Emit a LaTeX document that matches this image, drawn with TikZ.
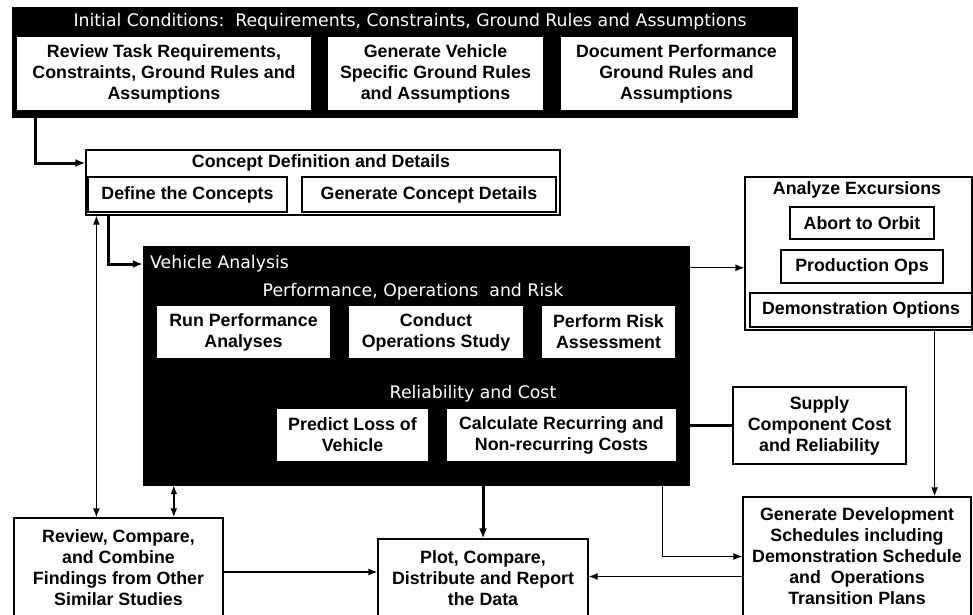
\documentclass[tikz,border=0pt]{standalone}
\usepackage{fontspec}
\setmainfont{Liberation Sans}
\newfontfamily\headfont{DejaVu Sans}
\usetikzlibrary{arrows.meta}
\tikzset{
    panel/.style={fill=black, draw=black, inner sep=0pt},
    frame/.style={fill=white, draw=black, line width=1.2pt, inner sep=0pt},
    task/.style={fill=white, draw=black, line width=1.3pt, inner sep=0pt, align=center,
        font=\fontsize{17.8}{21}\selectfont\bfseries},
    intask/.style={task, draw=none},
    head/.style={text=white, inner sep=0pt, font=\headfont\fontsize{17.3}{20}\selectfont},
    thin arrow/.style={-{Latex[length=9pt,width=7pt]}, line width=1.3pt},
    both arrow/.style={{Latex[length=9pt,width=7pt]}-{Latex[length=9pt,width=7pt]}, line width=#1},
    heavy arrow/.style={-{Latex[length=10pt,width=8pt]}, line width=3pt},
}

\begin{document}
\begin{tikzpicture}[x=1pt, y=-1pt]
    \useasboundingbox (0,0) rectangle (973,614);
    \clip (0,0) rectangle (973,614);
    \fill[white] (0,0) rectangle (973,614);

    % initial conditions
    \node[panel, minimum width=785pt, minimum height=110pt] (init) at (404.5,62) {};
    \node[head] (inittitle) at (410,22) {Initial Conditions:\ \ Requirements, Constraints, Ground Rules and Assumptions};
    \node[intask, minimum width=294pt, minimum height=73pt] (revtask) at (164,73.5) {Review Task Requirements,\\Constraints, Ground Rules and\\Assumptions};
    \node[intask, minimum width=215pt, minimum height=73pt] (genrules) at (435.5,73.5) {Generate Vehicle\\Specific Ground Rules\\and Assumptions};
    \node[intask, minimum width=231pt, minimum height=73pt] (docperf) at (676.5,73.5) {Document Performance\\Ground Rules and\\Assumptions};

    % concept definition
    \node[frame, minimum width=474pt, minimum height=65pt] (concept) at (323,182.5) {};
    \node[task, draw=none, fill=none] (contitle) at (321,163) {Concept Definition and Details};
    \node[task, minimum width=199pt, minimum height=35pt] (define) at (187.5,194.5) {Define the Concepts};
    \node[task, minimum width=254pt, minimum height=35pt] (gencon) at (429,194.5) {Generate Concept Details};

    % vehicle analysis
    \node[panel, minimum width=546pt, minimum height=239pt] (vehicle) at (416,365.5) {};
    \node[head, anchor=west] (vtitle) at (150,264) {Vehicle Analysis};
    \node[head] (perftitle) at (413,292) {Performance, Operations\ \ and Risk};
    \node[intask, minimum width=173pt, minimum height=52pt] (runperf) at (243.5,332) {Run Performance\\Analyses};
    \node[intask, minimum width=174pt, minimum height=52pt] (conduct) at (436,332) {Conduct\\Operations Study};
    \node[intask, minimum width=133pt, minimum height=52pt] (risk) at (608.5,332) {Perform Risk\\Assessment};
    \node[head] (reltitle) at (473,394) {Reliability and Cost};
    \node[intask, minimum width=151pt, minimum height=52pt] (loss) at (352.5,435) {Predict Loss of\\Vehicle};
    \node[intask, minimum width=229pt, minimum height=52pt] (calc) at (561.5,435) {Calculate Recurring and\\Non-recurring Costs};

    % excursions
    \node[frame, minimum width=227pt, minimum height=153pt] (excursions) at (858.5,253.5) {};
    \node[task, draw=none, fill=none] (exctitle) at (857,190) {Analyze Excursions};
    \node[task, minimum width=144pt, minimum height=32pt] (abort) at (862,223) {Abort to Orbit};
    \node[task, minimum width=162pt, minimum height=33pt] (prodops) at (862,266.5) {Production Ops};
    \node[task, minimum width=222pt, minimum height=34pt] (demo) at (861,310) {Demonstration Options};

    % outer boxes
    \node[task, minimum width=173pt, minimum height=77pt] (supply) at (819.5,425.5) {Supply\\Component Cost\\and Reliability};
    \node[task, minimum width=228pt, minimum height=119pt] (gendev) at (857,556.5) {Generate Development\\Schedules including\\Demonstration Schedule\\and\ \ Operations\\Transition Plans};
    \node[task, minimum width=209pt, minimum height=100pt] (review) at (118.5,568) {Review, Compare,\\and Combine\\Findings from Other\\Similar Studies};
    \node[task, minimum width=210pt, minimum height=78pt] (plot) at (483,578) {Plot, Compare,\\Distribute and Report\\the Data};

    % connector end points
    \coordinate (revout) at ([yshift=-4pt]review.east);
    \coordinate (vehout) at ([yshift=-22pt]vehicle.north east);
    \coordinate (excout) at ([xshift=-38pt]excursions.south east);
    \coordinate (devout) at ([yshift=-20pt]gendev.west);
    \coordinate (conout) at ([xshift=11pt]concept.south west);
    \coordinate (vehlow) at ([xshift=31pt]vehicle.south west);

    % connectors
    \draw[heavy arrow] ([xshift=24pt]init.south west) |- (concept.west |- contitle);
    \draw[heavy arrow] ([xshift=23pt]concept.south west) |- (vehicle.west |- vtitle);
    \draw[both arrow=1.3pt] (conout) -- (conout |- review.north);
    \draw[both arrow=2pt] (vehlow) -- (vehlow |- review.north);
    \draw[heavy arrow] (plot.north |- vehicle.south) -- (plot.north);
    \draw[thin arrow] (revout) -- (plot.west |- revout);
    \draw[thin arrow] (vehout) -- (excursions.west |- vehout);
    \draw[line width=3pt] (supply.west -| vehicle.east) -- (supply.west);
    \draw[thin arrow] (excout) -- (excout |- gendev.north);
    \draw[thin arrow] ([xshift=-27pt]vehicle.south east) |- (gendev.west);
    \draw[thin arrow] (devout) -- (plot.east |- devout);
\end{tikzpicture}
\end{document}
